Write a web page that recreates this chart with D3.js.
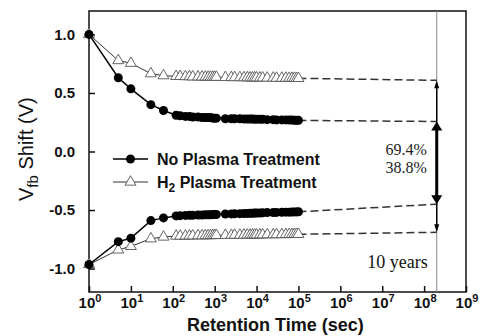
<!DOCTYPE html>
<html>
<head>
<meta charset="utf-8">
<script src="https://cdn.jsdelivr.net/npm/d3@7"></script>
<style>
  body { margin: 0; background: #fff; }
  svg { display: block; }
</style>
</head>
<body>
<div id="chart"></div>
<script>
// retention time (sec)
const times = [1, 5, 10, 30, 60,
  120, 150, 200, 250, 300, 400, 500, 600, 700, 800, 900, 1000, 1100,
  1800, 2500, 3000, 4000, 5000, 6000, 7000, 8000, 9000, 10000, 12000, 14000,
  18000, 25000, 30000, 40000, 50000, 60000, 70000, 80000, 90000, 100000];

// program side (positive) and erase side (negative)
const noPlasmaUp = [1.0, 0.63, 0.535, 0.40, 0.35,
  0.31, 0.305, 0.30, 0.30, 0.295, 0.295, 0.29, 0.29, 0.29, 0.29, 0.285, 0.285, 0.285,
  0.28, 0.28, 0.28, 0.28, 0.278, 0.278, 0.277, 0.277, 0.276, 0.276, 0.275, 0.275,
  0.272, 0.272, 0.27, 0.27, 0.27, 0.268, 0.268, 0.267, 0.267, 0.266];
const h2Up = [1.0, 0.777, 0.754, 0.665, 0.648,
  0.642, 0.642, 0.64, 0.64, 0.638, 0.638, 0.637, 0.637, 0.636, 0.636, 0.635, 0.635, 0.635,
  0.633, 0.633, 0.632, 0.632, 0.631, 0.631, 0.63, 0.63, 0.63, 0.63, 0.629, 0.629,
  0.628, 0.628, 0.627, 0.627, 0.627, 0.626, 0.626, 0.626, 0.625, 0.625];
const noPlasmaDown = [-0.965, -0.77, -0.74, -0.59, -0.567,
  -0.55, -0.548, -0.546, -0.545, -0.544, -0.543, -0.542, -0.541, -0.54, -0.54, -0.539, -0.538, -0.538,
  -0.534, -0.533, -0.532, -0.531, -0.53, -0.529, -0.528, -0.527, -0.526, -0.526, -0.525, -0.524,
  -0.522, -0.521, -0.52, -0.519, -0.518, -0.518, -0.517, -0.516, -0.516, -0.515];
const h2Down = [-0.965, -0.84, -0.81, -0.745, -0.73,
  -0.722, -0.722, -0.721, -0.72, -0.72, -0.719, -0.719, -0.718, -0.718, -0.717, -0.717, -0.716, -0.716,
  -0.715, -0.715, -0.714, -0.714, -0.713, -0.713, -0.713, -0.712, -0.712, -0.712, -0.711, -0.711,
  -0.71, -0.71, -0.709, -0.709, -0.708, -0.708, -0.708, -0.707, -0.707, -0.707];

// extrapolation out to 10 years
const tenYears = 2.0e8;
const extrapTimes = [100000, tenYears];
const extrapNoPlasmaUp = [0.266, 0.256];
const extrapH2Up = [0.625, 0.608];
const extrapNoPlasmaDown = [-0.515, -0.45];
const extrapH2Down = [-0.707, -0.69];

const xTickExps = [0, 1, 2, 3, 4, 5, 6, 7, 8, 9];
const yTicks = [-1.0, -0.5, 0.0, 0.5, 1.0];
const legendLabels = ['No Plasma Treatment', 'H2 Plasma Treatment'];
const ratioLabels = ['69.4%', '38.8%'];

const width = 484, height = 336;
const margin = {left: 89, right: 18, top: 11, bottom: 44};
const plotW = width - margin.left - margin.right;
const plotH = height - margin.top - margin.bottom;

const svg = d3.select('#chart').append('svg')
  .attr('width', width).attr('height', height)
  .style('font-family', '"Liberation Sans", Arial, sans-serif');

const x = d3.scaleLog().domain([1, 1e9]).range([0, plotW]);
const y = d3.scaleLinear().domain([-1.2, 1.2]).range([plotH, 0]);

const g = svg.append('g').attr('transform', `translate(${margin.left},${margin.top})`);

// frame
g.append('rect').attr('width', plotW).attr('height', plotH)
  .attr('fill', 'none').attr('stroke', '#111').attr('stroke-width', 1.5);

// x axis, ticks point inward
const xAxis = g.append('g').attr('transform', `translate(0,${plotH})`)
  .call(d3.axisBottom(x).tickValues(xTickExps.map(e => Math.pow(10, e))).tickSize(-6).tickFormat(''));
xAxis.select('.domain').remove();
xAxis.selectAll('line').attr('stroke', '#111').attr('stroke-width', 1.5);

const xLabels = g.append('g').selectAll('text').data(xTickExps).enter().append('text')
  .attr('x', e => x(Math.pow(10, e)) + 1)
  .attr('y', plotH + 16)
  .attr('text-anchor', 'middle')
  .style('font-size', '15px').style('font-weight', 'bold').attr('fill', '#111');
xLabels.append('tspan').text('10');
xLabels.append('tspan').attr('dy', -6).style('font-size', '11px').text(e => e);

// y axis
const yAxis = g.append('g')
  .call(d3.axisLeft(y).tickValues(yTicks).tickSize(-6).tickPadding(14)
    .tickFormat(d => d3.format('.1f')(d).replace('\u2212', '-')));
yAxis.select('.domain').remove();
yAxis.selectAll('line').attr('stroke', '#111').attr('stroke-width', 1.5);
yAxis.selectAll('text').style('font-size', '15px').style('font-weight', 'bold')
  .style('font-family', '"Liberation Sans", Arial, sans-serif').attr('fill', '#111');

// 10-year marker
g.append('line')
  .attr('x1', x(tenYears)).attr('x2', x(tenYears))
  .attr('y1', 0).attr('y2', plotH)
  .attr('stroke', '#888').attr('stroke-width', 1);

// dashed extrapolations
const line = d3.line().x(d => x(d[0])).y(d => y(d[1]));
[extrapH2Up, extrapNoPlasmaUp, extrapNoPlasmaDown, extrapH2Down].forEach(vals => {
  g.append('path')
    .attr('d', line(d3.zip(extrapTimes, vals)))
    .attr('fill', 'none').attr('stroke', '#333').attr('stroke-width', 1.5)
    .attr('stroke-dasharray', '8,4');
});

// series
const tri = d3.symbol().type(d3.symbolTriangle).size(52);

function drawTriangles(vals) {
  const pts = d3.zip(times, vals);
  g.append('path').attr('d', line(pts))
    .attr('fill', 'none').attr('stroke', '#333').attr('stroke-width', 1);
  g.append('g').selectAll('path').data(pts).enter().append('path')
    .attr('d', tri)
    .attr('transform', d => `translate(${x(d[0])},${y(d[1])})`)
    .attr('fill', '#fff').attr('stroke', '#555').attr('stroke-width', 0.9);
}

function drawCircles(vals) {
  const pts = d3.zip(times, vals);
  g.append('path').attr('d', line(pts))
    .attr('fill', 'none').attr('stroke', '#000').attr('stroke-width', 1.5);
  g.append('g').selectAll('circle').data(pts).enter().append('circle')
    .attr('cx', d => x(d[0])).attr('cy', d => y(d[1])).attr('r', 4.5)
    .attr('fill', '#000');
}

drawTriangles(h2Up);
drawTriangles(h2Down);
drawCircles(noPlasmaUp);
drawCircles(noPlasmaDown);

// arrows at 10 years
function arrow(v1, v2, shaft, headW, headH) {
  const ax = x(tenYears);
  const yTop = y(v1), yBot = y(v2);
  g.append('line').attr('x1', ax).attr('x2', ax)
    .attr('y1', yTop + headH - 1).attr('y2', yBot - headH + 1)
    .attr('stroke', '#000').attr('stroke-width', shaft);
  g.append('path')
    .attr('d', `M${ax},${yTop}L${ax - headW / 2},${yTop + headH}L${ax + headW / 2},${yTop + headH}Z`)
    .attr('fill', '#000');
  g.append('path')
    .attr('d', `M${ax},${yBot}L${ax - headW / 2},${yBot - headH}L${ax + headW / 2},${yBot - headH}Z`)
    .attr('fill', '#000');
}
arrow(extrapH2Up[1], extrapH2Down[1], 1.5, 5, 8);
arrow(extrapNoPlasmaUp[1], extrapNoPlasmaDown[1], 3, 11, 9);

g.selectAll('.ratio').data(ratioLabels).enter().append('text')
  .attr('class', 'ratio')
  .attr('x', x(tenYears) - 10)
  .attr('y', (d, i) => 144 + i * 18)
  .attr('text-anchor', 'end')
  .style('font-family', '"Liberation Serif", "Times New Roman", serif')
  .style('font-size', '16px').attr('fill', '#222')
  .text(d => d);

g.append('text')
  .attr('x', x(tenYears) - 9).attr('y', 257)
  .attr('text-anchor', 'end')
  .style('font-family', '"Liberation Serif", "Times New Roman", serif')
  .style('font-size', '18px').attr('fill', '#111')
  .text('10 years');

// legend
const legend = g.append('g').attr('transform', 'translate(24,148)');
legendLabels.forEach((label, i) => {
  const row = legend.append('g').attr('transform', `translate(0,${i * 23})`);
  row.append('line').attr('x1', 0).attr('x2', 35)
    .attr('stroke', i === 0 ? '#000' : '#333').attr('stroke-width', i === 0 ? 1.5 : 1);
  if (i === 0) {
    row.append('circle').attr('cx', 17.5).attr('r', 4.5).attr('fill', '#000');
  } else {
    row.append('path').attr('d', tri).attr('transform', 'translate(17.5,0)')
      .attr('fill', '#fff').attr('stroke', '#555').attr('stroke-width', 0.9);
  }
  const t = row.append('text').attr('x', 44).attr('y', 5.5)
    .style('font-size', '16px').style('font-weight', 'bold').attr('fill', '#111');
  if (label.startsWith('H2')) {
    t.append('tspan').text('H');
    t.append('tspan').attr('dy', 4).style('font-size', '12px').text('2');
    t.append('tspan').attr('dy', -4).text(label.slice(2));
  } else {
    t.text(label);
  }
});

// axis titles
svg.append('text')
  .attr('x', margin.left + x(Math.pow(10, 4.45)))
  .attr('y', 331)
  .attr('text-anchor', 'middle')
  .style('font-size', '18px').style('font-weight', 'bold').attr('fill', '#111')
  .text('Retention Time (sec)');

const yTitle = svg.append('text')
  .attr('transform', `translate(33,${margin.top + y(0.02)}) rotate(-90)`)
  .attr('text-anchor', 'middle')
  .style('font-size', '20px').attr('fill', '#111');
yTitle.append('tspan').text('V');
yTitle.append('tspan').attr('dy', 5).style('font-size', '15px').text('fb');
yTitle.append('tspan').attr('dy', -5).text(' Shift (V)');
</script>
</body>
</html>
